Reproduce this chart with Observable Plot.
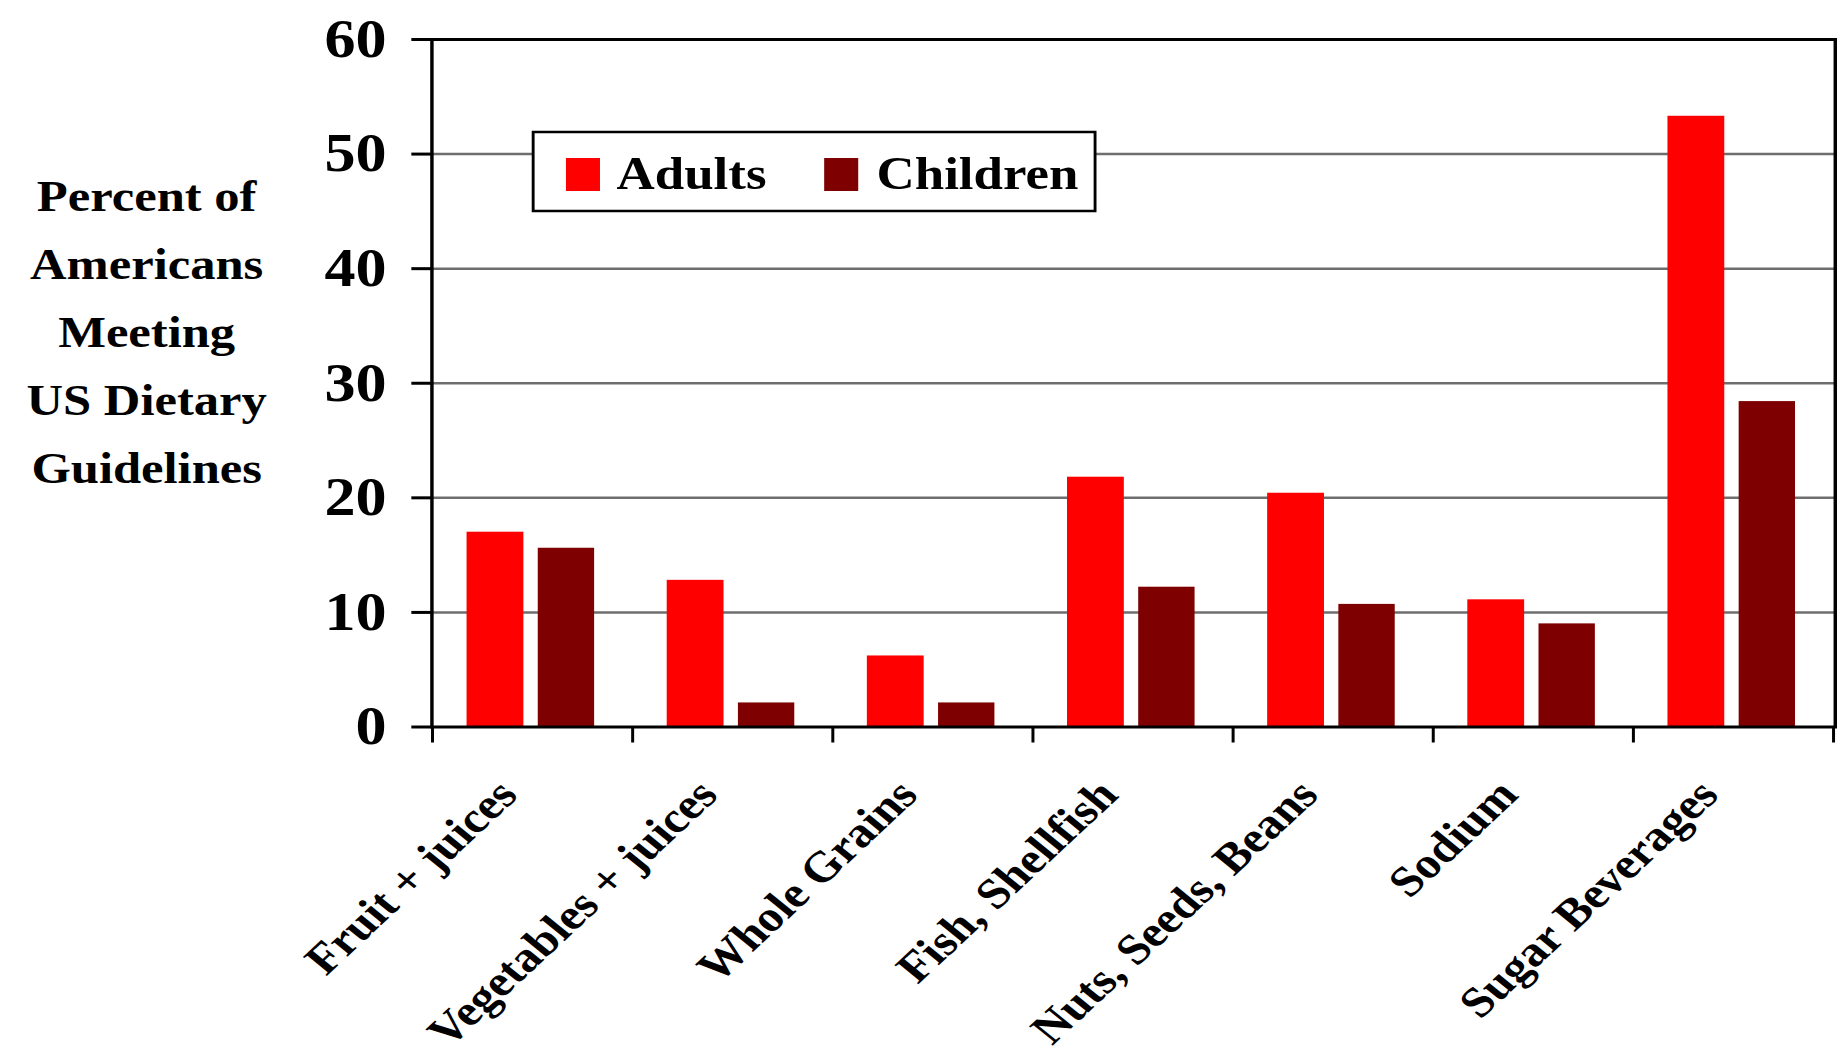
<!DOCTYPE html>
<html>
<head>
<meta charset="utf-8">
<script src="https://cdn.jsdelivr.net/npm/d3@7"></script>
<script src="https://cdn.jsdelivr.net/npm/@observablehq/plot@0.6"></script>
<style>
  html, body { margin: 0; padding: 0; background: #fff; overflow: hidden; }
  #chart { width: 1837px; height: 1063px; }
</style>
</head>
<body>
<div id="chart"></div>
<script>
// ---- data ----
const categories = ["Fruit + juices", "Vegetables + juices", "Whole Grains", "Fish, Shellfish", "Nuts, Seeds, Beans", "Sodium", "Sugar Beverages"];
const adults   = [17.0, 12.8, 6.2, 21.8, 20.4, 11.1, 53.3];
const children = [15.6, 2.1, 2.1, 12.2, 10.7, 9.0, 28.4];
const seriesNames = ["Adults", "Children"];
const seriesColors = ["#ff0000", "#7f0000"];
const yTicks = [0, 10, 20, 30, 40, 50, 60];
const yTitle = "Percent of\nAmericans\nMeeting\nUS Dietary\nGuidelines";

const rows = categories.flatMap((c, i) => [
  {category: c, series: "Adults", value: adults[i]},
  {category: c, series: "Children", value: children[i]}
]);

// The reference is horizontally stretched; draw in a narrower coordinate space and stretch.
const OUT_W = 1837, OUT_H = 1063;
const K = 1.15;
const W = Math.round(OUT_W / K);
const FONT = "'Liberation Serif', 'Times New Roman', Times, serif";

// boundary ticks on the band scale
const bandTicks = (index, scales, values, dims) => {
  const x = scales.x, y = scales.y;
  let bw = typeof x.bandwidth === "function" ? x.bandwidth() : x.bandwidth;
  if (!(bw > 0)) bw = (dims.width - dims.marginLeft - dims.marginRight) / categories.length;
  const y0 = y(0);
  const g = d3.create("svg:g").attr("stroke", "black").attr("stroke-width", 2.6);
  const xs = categories.map(c => x(c)).concat([x(categories[categories.length - 1]) + bw]);
  for (const xv of xs) if (isFinite(xv)) g.append("line").attr("x1", xv).attr("x2", xv).attr("y1", y0).attr("y2", y0 + 16);
  return g.node();
};

// in-plot legend
const legend = (index, scales, values, dims) => {
  const g = d3.create("svg:g");
  g.append("rect").attr("x", 463.5).attr("y", 132).attr("width", 488.5).attr("height", 79)
    .attr("fill", "white").attr("stroke", "black").attr("stroke-width", 2.5);
  const items = [{sx: 492, tx: 536}, {sx: 716.5, tx: 762}];
  seriesNames.forEach((name, i) => {
    g.append("rect").attr("x", items[i].sx).attr("y", 158).attr("width", 29.6).attr("height", 33)
      .attr("fill", seriesColors[i]);
    g.append("text").attr("x", items[i].tx).attr("y", 189).attr("fill", "black")
      .attr("text-anchor", "start")
      .attr("font-family", FONT).attr("font-weight", "bold").attr("font-size", 46).text(name);
  });
  return g.node();
};

const adultInset = {insetLeft: 29.6, insetRight: 95};
const childInset = {insetLeft: 91.5, insetRight: 33.5};

const chart = Plot.plot({
  width: W,
  height: OUT_H,
  marginLeft: 375,
  marginRight: 2,
  marginTop: 39,
  marginBottom: 336.5,
  style: {fontFamily: FONT, fontSize: "44px", fontWeight: "bold", color: "black", background: "white"},
  x: {domain: categories, padding: 0, label: null},
  y: {domain: [0, 60], label: null},
  color: {domain: seriesNames, range: seriesColors},
  marks: [
    Plot.ruleY(yTicks.filter(t => t > 0 && t < 60), {stroke: "#6e6e6e", strokeWidth: 2.5}),
    Plot.barY(rows.filter(d => d.series === "Adults"), {x: "category", y: "value", fill: "series", ...adultInset}),
    Plot.barY(rows.filter(d => d.series === "Children"), {x: "category", y: "value", fill: "series", ...childInset}),
    Plot.frame({stroke: "black", strokeWidth: 3}),
    Plot.axisY({ticks: yTicks, tickSize: 17.4, tickPadding: 22, strokeWidth: 3, label: null, fontSize: 54}),
    Plot.axisX({tickSize: 0, tickRotate: -47, tickPadding: 60, dx: -22, label: null, fontSize: 43}),
    bandTicks,
    Plot.text([yTitle], {frameAnchor: "left", textAnchor: "middle", dx: -248, dy: -58, lineHeight: 1.545, fontSize: 44, fill: "black"}),
    legend
  ]
});

chart.setAttribute("viewBox", `0 0 ${W} ${OUT_H}`);
chart.setAttribute("preserveAspectRatio", "none");
chart.setAttribute("width", OUT_W);
chart.setAttribute("height", OUT_H);
chart.style.width = OUT_W + "px";
chart.style.height = OUT_H + "px";
chart.style.maxWidth = "none";
document.getElementById("chart").appendChild(chart);
</script>
</body>
</html>
